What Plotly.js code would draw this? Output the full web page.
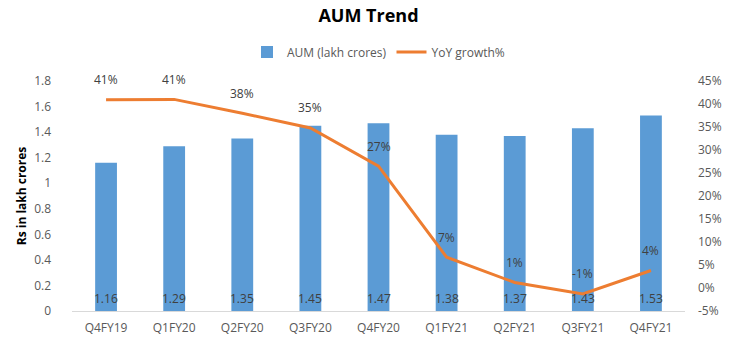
<!DOCTYPE html>
<html>
<head>
<meta charset="utf-8">
<script src="https://cdn.plot.ly/plotly-3.0.1.min.js"></script>
<style>html,body{margin:0;padding:0;background:#fff;}#chart{width:737px;height:351px;}</style>
</head>
<body>
<div id="chart"></div>
<script>
const categories = ["Q4FY19","Q1FY20","Q2FY20","Q3FY20","Q4FY20","Q1FY21","Q2FY21","Q3FY21","Q4FY21"];
const aum = [1.16,1.29,1.35,1.45,1.47,1.38,1.37,1.43,1.53];
const yoyGrowth = [0.409,0.410,0.380,0.348,0.265,0.067,0.012,-0.013,0.038];
const leftTicks = [0,0.2,0.4,0.6,0.8,1,1.2,1.4,1.6,1.8];
const rightTicks = [-0.05,0,0.05,0.1,0.15,0.2,0.25,0.3,0.35,0.4,0.45];

const FONT = "Open Sans, sans-serif";
const TXT = "#404040";

const traces = [
  {
    type: "bar", name: "AUM (lakh crores)", x: categories, y: aum,
    marker: {color: "#5B9BD5"}, width: 0.32, hoverinfo: "x+y"
  },
  {
    type: "scatter", mode: "lines", name: "YoY growth%", x: categories, y: yoyGrowth,
    yaxis: "y2", line: {color: "#ED7D31", width: 3}, hoverinfo: "x+y"
  }
];

const lineLabels = categories.map((c, i) => ({
  x: c, y: yoyGrowth[i], xref: "x", yref: "y2", yshift: 20, showarrow: false,
  text: Math.round(yoyGrowth[i] * 100) + "%",
  font: {family: FONT, size: 12, color: TXT}
}));
const barLabels = categories.map((c, i) => ({
  x: c, y: 0, xref: "x", yref: "y", yshift: 13, showarrow: false,
  text: aum[i].toFixed(2),
  font: {family: FONT, size: 12, color: TXT}
}));

const layout = {
  width: 737, height: 351,
  margin: {l: 72, r: 52, t: 81, b: 40, autoexpand: false},
  paper_bgcolor: "#fff", plot_bgcolor: "#fff",
  font: {family: FONT, size: 12, color: "#595959"},
  title: {text: "<b>AUM Trend</b>", x: 0.5, xanchor: "center", y: 0.955, yanchor: "middle",
          font: {family: FONT, size: 18, color: "#000"}},
  showlegend: true,
  legend: {orientation: "h", x: 0.5, xanchor: "center", y: 1 - 52/351, yref: "container", yanchor: "middle",
           font: {family: FONT, size: 12, color: "#595959"}, traceorder: "normal"},
  bargap: 0.68,
  xaxis: {type: "category", showgrid: false, showline: true, linecolor: "#D9D9D9", linewidth: 1,
          ticks: "", ticklabelstandoff: 6, tickfont: {family: FONT, size: 12, color: "#595959"}, zeroline: false},
  yaxis: {range: [0, 1.8], tickvals: leftTicks, ticktext: leftTicks.map(String), showgrid: false,
          zeroline: false, showline: false, ticks: "", ticklabelstandoff: 20,
          tickfont: {family: FONT, size: 12, color: "#595959"},
          title: {text: "<b>Rs in lakh crores</b>", standoff: 4, font: {family: FONT, size: 12, color: "#000"}}},
  yaxis2: {overlaying: "y", side: "right", range: [-0.05, 0.45], tickvals: rightTicks,
           ticktext: rightTicks.map(v => Math.round(v * 100) + "%"),
           showgrid: false, zeroline: false, showline: false, ticks: "", ticklabelstandoff: 12,
           tickfont: {family: FONT, size: 12, color: "#595959"}},
  annotations: lineLabels.concat(barLabels)
};

Plotly.newPlot("chart", traces, layout, {displayModeBar: false, staticPlot: true});
</script>
</body>
</html>
